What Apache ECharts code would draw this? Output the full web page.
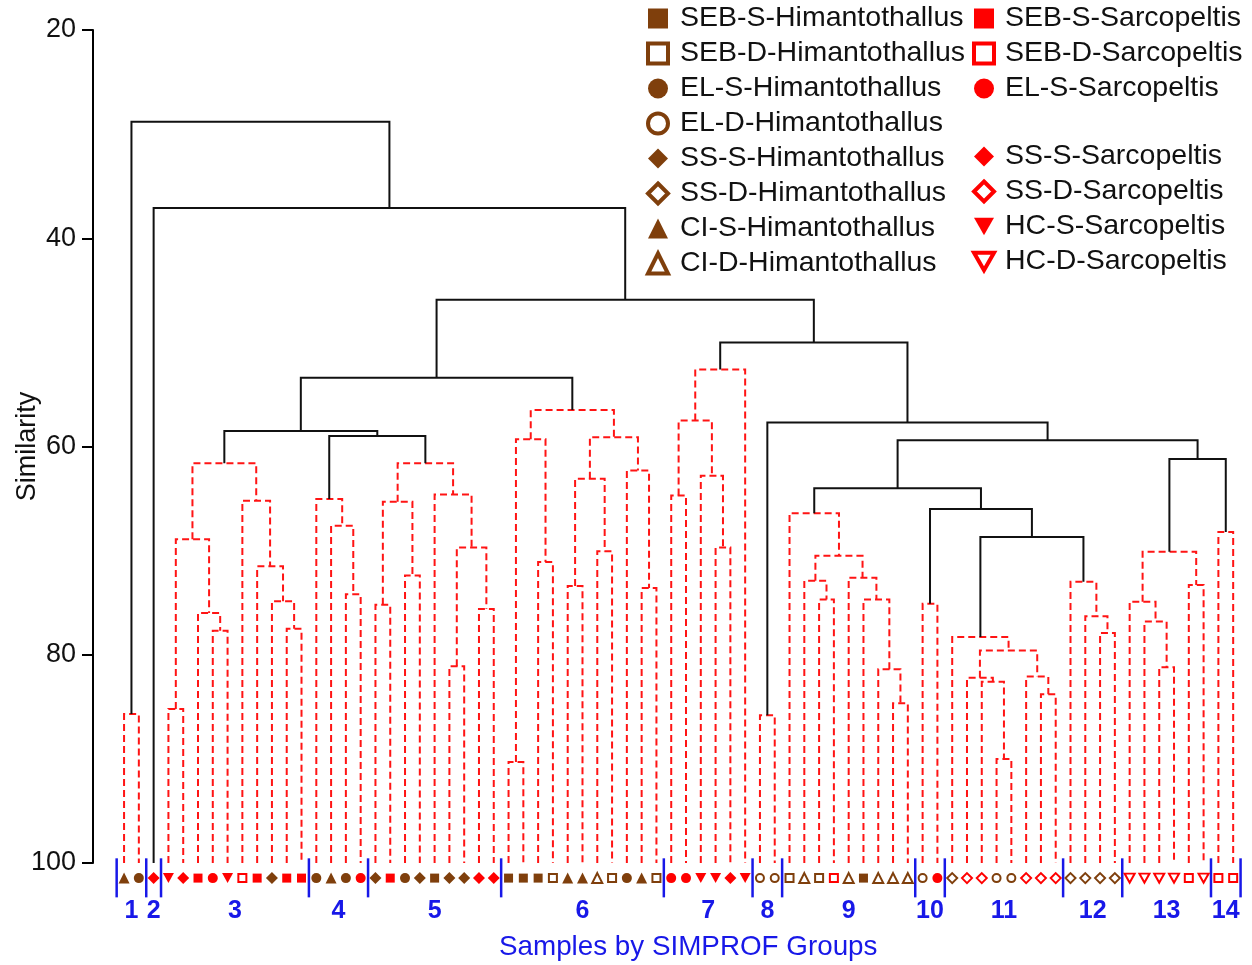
<!DOCTYPE html>
<html>
<head>
<meta charset="utf-8">
<script src="https://cdn.jsdelivr.net/npm/echarts@6/dist/echarts.min.js"></script>
<style>
html,body{margin:0;padding:0;background:#fff;}
#chart{width:1252px;height:965px;}
</style>
</head>
<body>
<div id="chart"></div>
<script>
// ---------------- DATA ----------------
// Sample categories (legend order)
const himantoCategories = [
  'SEB-S-Himantothallus','SEB-D-Himantothallus','EL-S-Himantothallus','EL-D-Himantothallus',
  'SS-S-Himantothallus','SS-D-Himantothallus','CI-S-Himantothallus','CI-D-Himantothallus'
];
const sarcoCategoriesTop = ['SEB-S-Sarcopeltis','SEB-D-Sarcopeltis','EL-S-Sarcopeltis'];
const sarcoCategoriesBottom = ['SS-S-Sarcopeltis','SS-D-Sarcopeltis','HC-S-Sarcopeltis','HC-D-Sarcopeltis'];

// Leaves of the dendrogram, left to right
const leafSamples = [
  'CI-S-Himantothallus','EL-S-Himantothallus',
  'SS-S-Sarcopeltis',
  'HC-S-Sarcopeltis','SS-S-Sarcopeltis','SEB-S-Sarcopeltis','EL-S-Sarcopeltis','HC-S-Sarcopeltis',
  'SEB-D-Sarcopeltis','SEB-S-Sarcopeltis','SS-S-Himantothallus','SEB-S-Sarcopeltis','SEB-S-Sarcopeltis',
  'EL-S-Himantothallus','CI-S-Himantothallus','EL-S-Himantothallus','EL-S-Sarcopeltis',
  'SS-S-Himantothallus','SEB-S-Sarcopeltis','EL-S-Himantothallus','SS-S-Himantothallus','SEB-S-Himantothallus',
  'SS-S-Himantothallus','SS-S-Himantothallus','SS-S-Sarcopeltis','SS-S-Sarcopeltis',
  'SEB-S-Himantothallus','SEB-S-Himantothallus','SEB-S-Himantothallus','SEB-D-Himantothallus','CI-S-Himantothallus',
  'CI-S-Himantothallus','CI-D-Himantothallus','SEB-D-Himantothallus','EL-S-Himantothallus','CI-S-Himantothallus','SEB-D-Himantothallus',
  'EL-S-Sarcopeltis','EL-S-Sarcopeltis','HC-S-Sarcopeltis','HC-S-Sarcopeltis','SS-S-Sarcopeltis','HC-S-Sarcopeltis',
  'EL-D-Himantothallus','EL-D-Himantothallus',
  'SEB-D-Himantothallus','CI-D-Himantothallus','SEB-D-Himantothallus','SEB-D-Sarcopeltis','CI-D-Himantothallus',
  'SEB-S-Himantothallus','CI-D-Himantothallus','CI-D-Himantothallus','CI-D-Himantothallus',
  'EL-D-Himantothallus','EL-S-Sarcopeltis',
  'SS-D-Himantothallus','SS-D-Sarcopeltis','SS-D-Sarcopeltis','EL-D-Himantothallus','EL-D-Himantothallus',
  'SS-D-Sarcopeltis','SS-D-Sarcopeltis','SS-D-Sarcopeltis',
  'SS-D-Himantothallus','SS-D-Himantothallus','SS-D-Himantothallus','SS-D-Himantothallus',
  'HC-D-Sarcopeltis','HC-D-Sarcopeltis','HC-D-Sarcopeltis','HC-D-Sarcopeltis','SEB-D-Sarcopeltis','HC-D-Sarcopeltis',
  'SEB-D-Sarcopeltis','SEB-D-Sarcopeltis'
];

// Merge table: numbers = leaf index, 'nK' = merge K
const mergeLeft = [0,3,6,5,'n1',11,10,9,8,'n4',15,14,13,17,19,'n13',22,24,'n16',21,'n15','n12','n9',
  26,28,'n23',30,32,'n26',35,34,'n28','n25','n22',37,40,39,'n34','n37',43,47,46,52,51,50,49,'n41',45,54,
  59,58,57,62,61,'n51',56,66,65,64,'n55','n48','n47',70,69,68,72,'n64',74,'n66','n61','n39','n38','n33',2,'n0'];
const mergeRight = [1,4,7,'n2','n3',12,'n5','n6','n7','n8',16,'n10','n11',18,20,'n14',23,25,'n17','n18','n19','n20','n21',
  27,29,'n24',31,33,'n27',36,'n29','n30','n31','n32',38,41,'n35','n36',42,44,48,'n40',53,'n42','n43','n44','n45','n46',55,
  60,'n49','n50',63,'n52','n53','n54',67,'n56','n57','n58','n59','n60',71,'n62','n63',73,'n65',75,'n67','n68','n69','n70','n71','n72','n73'];
const mergeSimilarity = [85.7,85.2,77.7,76.0,68.9,77.5,74.85,71.5,65.2,61.6,
  74.2,67.6,65.05,
  75.2,72.4,65.3,81.1,75.6,69.7,64.6,61.6,
  59.0,58.5,
  90.3,71.1,59.3,73.4,70.05,63.1,73.6,62.3,59.1,56.5,
  53.4,
  64.7,69.7,62.8,57.5,52.6,
  85.8,
  74.7,72.9,84.65,81.4,74.7,72.6,70.5,66.4,
  75.1,
  90.0,82.6,82.2,83.8,82.1,79.6,78.3,
  77.9,76.3,73.0,
  68.7,66.0,64.0,
  81.2,76.8,74.9,73.3,70.1,
  68.2,
  61.2,59.4,57.7,50.0,45.9,37.1,28.8];
// 1 = merge inside a SIMPROF group (red dashed), 0 = significant structure (black)
const mergeWithinGroup = [1,1,1,1,1,1,1,1,1,1, 1,1,1, 1,1,1,1,1,1,1,1, 0,0,
  1,1,1,1,1,1,1,1,1,1, 0, 1,1,1,1,1, 1, 1,1,1,1,1,1,1,1, 1, 1,1,1,1,1,1,1, 1,1,1,
  0,0,0, 1,1,1,1,1, 1, 0,0,0,0,0,0,0];

// SIMPROF groups (number of leaves in each, left to right)
const groupLabels = ['1','2','3','4','5','6','7','8','9','10','11','12','13','14'];
const groupSizes = [2,1,10,4,9,11,6,2,9,2,8,4,6,2];

// ---------------- STYLE ----------------
const FONT = '"Liberation Sans", Arial, Helvetica, sans-serif';
const BROWN = '#7f3f0c', RED = '#ff0000', BLUE = '#1818e8';
const INV_TRI = 'path://M0,0L10,0L5,8.7Z';
const shapeOf = {
  'SEB-S': {symbol:'rect', size:9, hollow:false},
  'SEB-D': {symbol:'rect', size:8, hollow:true},
  'EL-S': {symbol:'circle', size:10, hollow:false},
  'EL-D': {symbol:'circle', size:8, hollow:true},
  'SS-S': {symbol:'diamond', size:12, hollow:false},
  'SS-D': {symbol:'diamond', size:10, hollow:true},
  'CI-S': {symbol:'triangle', size:11, hollow:false},
  'CI-D': {symbol:'triangle', size:10, hollow:true},
  'HC-S': {symbol:INV_TRI, size:[11,10], hollow:false},
  'HC-D': {symbol:INV_TRI, size:[10,9], hollow:true}
};
function styleOf(name) {
  const parts = name.split('-');
  const sh = shapeOf[parts[0] + '-' + parts[1]];
  const color = parts[2] === 'Himantothallus' ? BROWN : RED;
  return Object.assign({color}, sh);
}

// ---------------- BUILD ----------------
const LEAF_BASE = 100;      // leaves sit at similarity 100
const MARKER_LEVEL = 101.45; // marker row just under the axis
const nodeX = [];
function refPos(ref) {
  if (typeof ref === 'number') return [ref, LEAF_BASE];
  const k = +ref.slice(1);
  return [nodeX[k], mergeSimilarity[k]];
}
const segData = [];
for (let k = 0; k < mergeSimilarity.length; k++) {
  const a = refPos(mergeLeft[k]);
  const b = refPos(mergeRight[k]);
  nodeX[k] = (a[0] + b[0]) / 2;
  segData.push([a[0], a[1], b[0], b[1], mergeSimilarity[k], mergeWithinGroup[k]]);
}

const boundaries = [-0.5];
groupSizes.forEach(n => boundaries.push(boundaries[boundaries.length - 1] + n));
const groupCenters = groupSizes.map((n, i) => (boundaries[i] + boundaries[i + 1]) / 2);

const allCategories = himantoCategories.concat(sarcoCategoriesTop, sarcoCategoriesBottom);
const scatterSeries = allCategories.map(name => {
  const st = styleOf(name);
  const data = [];
  leafSamples.forEach((s, i) => { if (s === name) data.push([i, MARKER_LEVEL]); });
  return {
    type: 'scatter', name, data, clip: false, silent: true, z: 5,
    symbol: st.symbol, symbolSize: st.size,
    itemStyle: st.hollow ? {color:'#fff', borderColor: st.color, borderWidth: 2, opacity: 1}
                         : {color: st.color, borderWidth: 0, opacity: 1},
    emphasis: {disabled: true}
  };
});

// Legend drawn with the library's legend component (one per column block)
function legendItem(name) {
  const st = styleOf(name);
  return {
    name, icon: st.symbol,
    itemStyle: st.hollow ? {color:'#fff', borderColor: st.color, borderWidth: 4, opacity: 1}
                         : {color: st.color, borderColor: st.color, borderWidth: 0, opacity: 1}
  };
}
const legendCommon = {
  orient: 'vertical', itemWidth: 20, itemHeight: 20, itemGap: 6, padding: 0,
  selectedMode: false,
  textStyle: {fontSize: 28.5, color: '#111', fontFamily: FONT, lineHeight: 27, padding: [0, 0, 0, 7]}
};

const option = {
  backgroundColor: '#fff',
  animation: false,
  textStyle: {fontFamily: FONT},
  title: {
    text: 'Samples by SIMPROF Groups', left: 499, top: 933, padding: 0,
    textStyle: {fontSize: 27.8, fontWeight: 'normal', color: BLUE, fontFamily: FONT}
  },
  legend: [
    Object.assign({}, legendCommon, {left: 646, top: 4, data: himantoCategories.map(legendItem)}),
    Object.assign({}, legendCommon, {left: 972, top: 4, data: sarcoCategoriesTop.map(legendItem),
      textStyle: Object.assign({}, legendCommon.textStyle, {padding: [0, 0, 0, 6]})}),
    Object.assign({}, legendCommon, {left: 972, top: 142, data: sarcoCategoriesBottom.map(legendItem),
      textStyle: Object.assign({}, legendCommon.textStyle, {padding: [0, 0, 0, 6]})})
  ],
  grid: {left: 93, right: 7, top: 30, bottom: 102, containLabel: false, outerBoundsMode: 'none'},
  xAxis: {type: 'value', min: -2.1, max: 75.8, show: false},
  yAxis: {
    type: 'value', inverse: true, min: 20, max: 100, interval: 20,
    axisLine: {show: true, onZero: false, lineStyle: {color: '#000', width: 2}},
    axisTick: {show: true, length: 11, lineStyle: {color: '#000', width: 2}},
    axisLabel: {fontSize: 27, color: '#111', margin: 17, fontFamily: FONT},
    splitLine: {show: false},
    name: 'Similarity', nameLocation: 'middle', nameRotate: 90, nameGap: 52, nameMoveOverlap: false,
    nameTextStyle: {fontSize: 27, color: '#111', fontFamily: FONT}
  },
  series: [
    {
      type: 'custom', name: 'dendrogram', data: segData, silent: true, z: 2,
      encode: {x: [0, 2], y: [1, 3, 4]},
      renderItem: function (params, api) {
        const p1 = api.coord([api.value(0), api.value(1)]);
        const p2 = api.coord([api.value(0), api.value(4)]);
        const p3 = api.coord([api.value(2), api.value(4)]);
        const p4 = api.coord([api.value(2), api.value(3)]);
        const within = api.value(5) === 1;
        return {
          type: 'polyline',
          shape: {points: [p1, p2, p3, p4]},
          style: {
            stroke: within ? '#ff1414' : '#111', lineWidth: 2,
            lineDash: within ? [7, 4] : null, fill: null
          }
        };
      }
    },
    {
      type: 'custom', name: 'groupSeparators', silent: true, z: 3,
      data: boundaries.map(b => [b, 99.55, 103.3]),
      encode: {x: 0, y: [1, 2]},
      renderItem: function (params, api) {
        const a = api.coord([api.value(0), api.value(1)]);
        const b = api.coord([api.value(0), api.value(2)]);
        return {type: 'line', shape: {x1: a[0], y1: a[1], x2: b[0], y2: b[1]},
                style: {stroke: BLUE, lineWidth: 2.5}};
      }
    },
    {
      type: 'custom', name: 'groupLabels', silent: true, z: 3,
      data: groupCenters.map(c => [c, 104.6]),
      encode: {x: 0, y: 1},
      renderItem: function (params, api) {
        const p = api.coord([api.value(0), api.value(1)]);
        return {
          type: 'text', x: p[0], y: p[1],
          style: {text: groupLabels[params.dataIndex], fill: BLUE, fontSize: 25,
                  fontWeight: 'bold', fontFamily: FONT, align: 'center', verticalAlign: 'middle'}
        };
      }
    }
  ].concat(scatterSeries)
};

const chart = echarts.init(document.getElementById('chart'), null, {renderer: 'canvas'});
chart.setOption(option);
</script>
</body>
</html>
